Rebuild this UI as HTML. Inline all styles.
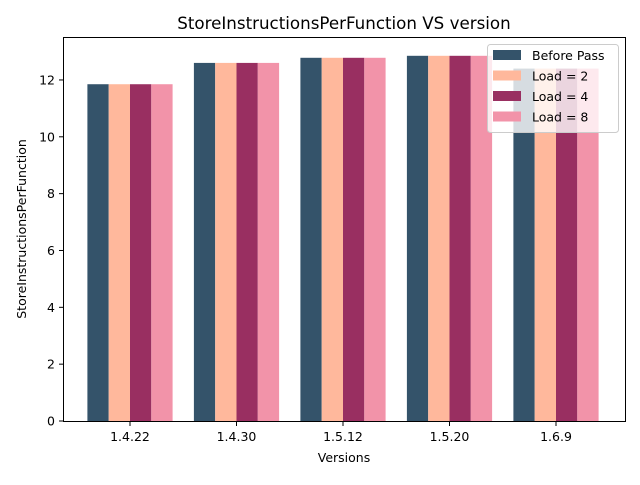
<!DOCTYPE html>
<html><head><meta charset="utf-8"><style>body{margin:0;background:#fff}svg{font-family:"DejaVu Sans","Liberation Sans",sans-serif}</style></head>
<body>
<svg id="chart" width="640" height="480">
<rect width="640" height="480" fill="#fff"/>
<text x="344" y="29" font-size="16.7" text-anchor="middle">StoreInstructionsPerFunction VS version</text>
<g id="bars"></g>
<g id="axes"></g>
<rect x="63.5" y="37.5" width="562" height="384" fill="none" stroke="#000" stroke-width="1"/>
<text x="344" y="462" font-size="12.5" text-anchor="middle">Versions</text>
<text transform="translate(26,229) rotate(-90)" font-size="12.5" text-anchor="middle">StoreInstructionsPerFunction</text>
<g id="legend"></g>
</svg>
<script>
const categories = ["1.4.22","1.4.30","1.5.12","1.5.20","1.6.9"];
const seriesNames = ["Before Pass","Load = 2","Load = 4","Load = 8"];
const beforePass = [11.85,12.6,12.78,12.85,12.4];
const load2 = [11.85,12.6,12.78,12.85,12.4];
const load4 = [11.85,12.6,12.78,12.85,12.4];
const load8 = [11.85,12.6,12.78,12.85,12.4];
const yTicks = [0,2,4,6,8,10,12];
const colors = ["#34536a","#ffb89c","#992f61","#f293a9"];
const series = [beforePass,load2,load4,load8];
const NS="http://www.w3.org/2000/svg";
const y0=421, yPer=28.42;
function yScale(v){return y0 - v*yPer;}
function xScale(i){return 130 + 106.5*i;}
const bw=21.3;
const bars=document.getElementById('bars');
series.forEach((s,si)=>{
  s.forEach((v,i)=>{
    const r=document.createElementNS(NS,'rect');
    const x=xScale(i)-2*bw+si*bw;
    r.setAttribute('x',x);r.setAttribute('y',yScale(v));
    r.setAttribute('width',bw);r.setAttribute('height',y0-yScale(v));
    r.setAttribute('fill',colors[si]);
    
    
    bars.appendChild(r);
  });
});
const axes=document.getElementById('axes');
yTicks.forEach(t=>{
  const y=yScale(t);
  const l=document.createElementNS(NS,'line');
  l.setAttribute('x1',59);l.setAttribute('x2',63.5);l.setAttribute('y1',y);l.setAttribute('y2',y);l.setAttribute('stroke','#000');
  
  
  axes.appendChild(l);
  const tx=document.createElementNS(NS,'text');
  tx.setAttribute('x',55);tx.setAttribute('y',y+4.5);tx.setAttribute('font-size','12.5');tx.setAttribute('text-anchor','end');
  tx.textContent=t;
  
  
  axes.appendChild(tx);
});
categories.forEach((c,i)=>{
  const x=xScale(i);
  const l=document.createElementNS(NS,'line');
  l.setAttribute('x1',x);l.setAttribute('x2',x);l.setAttribute('y1',421.5);l.setAttribute('y2',426);l.setAttribute('stroke','#000');
  
  
  axes.appendChild(l);
  const tx=document.createElementNS(NS,'text');
  tx.setAttribute('x',x);tx.setAttribute('y',441);tx.setAttribute('font-size','12.5');tx.setAttribute('text-anchor','middle');
  tx.textContent=c;
  
  
  axes.appendChild(tx);
});
const lg=document.getElementById('legend');
const box=document.createElementNS(NS,'rect');
box.setAttribute('x',487.5);box.setAttribute('y',44.5);box.setAttribute('width',131);box.setAttribute('height',88);
box.setAttribute('rx',3);box.setAttribute('fill','rgba(255,255,255,0.8)');box.setAttribute('stroke','#ccc');


lg.appendChild(box);
seriesNames.forEach((n,i)=>{
  const y=50+i*20.5;
  const sw=document.createElementNS(NS,'rect');
  sw.setAttribute('x',493);sw.setAttribute('y',y);sw.setAttribute('width',28);sw.setAttribute('height',10);sw.setAttribute('fill',colors[i]);
  
  
  lg.appendChild(sw);
  const t=document.createElementNS(NS,'text');
  t.setAttribute('x',532);t.setAttribute('y',y+10);t.setAttribute('font-size','12.5');
  t.textContent=n;
  
  
  lg.appendChild(t);
});
</script>
</body></html>
